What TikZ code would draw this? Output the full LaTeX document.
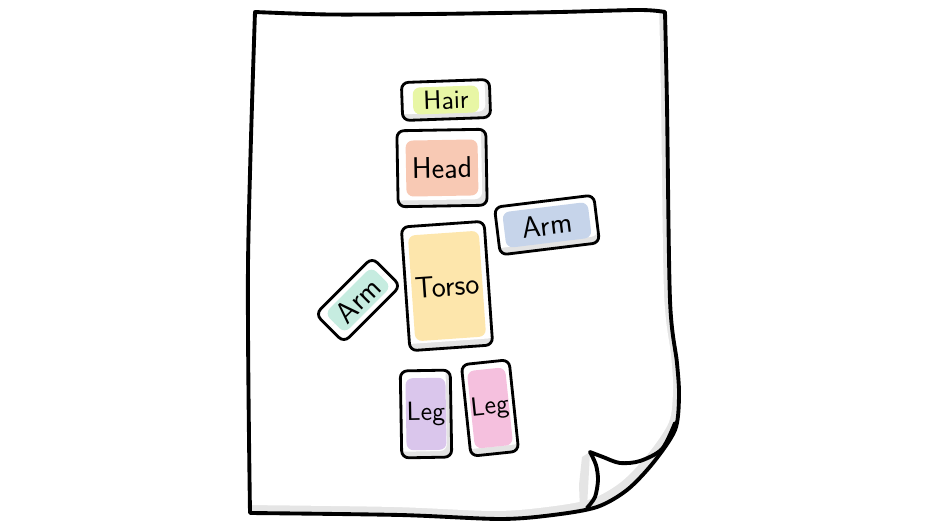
\documentclass[tikz,border=0pt]{standalone}
\usetikzlibrary{arrows}
\definecolor{hairfill}{RGB}{232,246,165}
\definecolor{headfill}{RGB}{248,201,180}
\definecolor{armrfill}{RGB}{198,212,234}
\definecolor{armlfill}{RGB}{198,236,224}
\definecolor{torsofill}{RGB}{253,230,172}
\definecolor{leglfill}{RGB}{218,198,236}
\definecolor{legrfill}{RGB}{245,192,222}
\begin{document}
\begin{tikzpicture}[x=0.02cm,y=0.02cm]
                    \tikzstyle{every node}+=[inner sep=0pt]
                    \tikzstyle{card}=[draw=black, line width=1.6pt, fill=white, rounded corners=4pt,
                      path picture={\fill[black!11] (path picture bounding box.south west) rectangle (path picture bounding box.north east);
                        \fill[white, rounded corners=4pt] ([shift={(-10pt,3.5pt)}]path picture bounding box.south west) rectangle ([shift={(-3.5pt,10pt)}]path picture bounding box.north east);}]
                    \tikzstyle{patch}=[rounded corners=4pt, font=\sffamily\fontsize{17}{17}\selectfont]
                    \tikzstyle{paperline}=[line width=2.2pt, line join=round, line cap=round]
                    \useasboundingbox (0,0) rectangle (938,525);
                    % the sheet
                    \def\paperpath{(255,513) -- plot[smooth] coordinates {(255,513) (330,510.5) (430,511) (500,512) (560,513) (640,515) (665,513)}
                      -- plot[smooth] coordinates {(665,513) (667,420) (670,225) (677,162) (679,128) (675,95) (653,62) (627,35) (597,18) (553,10) (500,6) (400,10) (250,12)}
                      -- plot[smooth] coordinates {(250,12) (248,260) (255,513)} -- cycle}
                    \fill[black!10] \paperpath;
                    \begin{scope}
                      \clip \paperpath;
                      \fill[white, shift={(-6,8)}] \paperpath;
                      \fill[black!10] (590,73) -- (582,68) -- (579,40) -- (580,14) -- (587,17) -- cycle;
                    \end{scope}
                    \draw[paperline] \paperpath;
                    \draw[paperline] plot[smooth] coordinates {(675,102) (662,76) (640,64) (620,62) (603,68) (590,73)}
                      -- plot[smooth] coordinates {(590,73) (596,60) (598,45) (595,28) (587,17)};
                    % body parts
                    \node[card, minimum width=1.76cm, minimum height=0.76cm, rotate=2] (hair) at (446,425) {};
                    \node[patch, fill=hairfill, minimum width=1.32cm, minimum height=0.54cm, rotate=2, font=\sffamily\fontsize{15}{15}\selectfont] (hairtag) at (hair) {Hair};
                    \node[card, minimum width=1.78cm, minimum height=1.52cm, rotate=1] (head) at (442,357) {};
                    \node[patch, fill=headfill, minimum width=1.44cm, minimum height=1.12cm, rotate=1] (headtag) at (head) {Head};
                    \node[card, minimum width=2.0cm, minimum height=0.96cm, rotate=7] (armr) at (547,300) {};
                    \node[patch, fill=armrfill, minimum width=1.72cm, minimum height=0.72cm, rotate=7] (armrtag) at (armr) {Arm};
                    \node[card, minimum width=1.66cm, minimum height=2.48cm, rotate=4] (torso) at (447,239) {};
                    \node[patch, fill=torsofill, minimum width=1.42cm, minimum height=2.12cm, rotate=4] (torsotag) at (torso) {Torso};
                    \node[card, minimum width=1.6cm, minimum height=0.8cm, rotate=45] (arml) at (358,225) {};
                    \node[patch, fill=armlfill, minimum width=1.32cm, minimum height=0.56cm, rotate=45] (armltag) at (arml) {Arm};
                    \node[card, minimum width=1.0cm, minimum height=1.74cm, rotate=1] (legl) at (426,111) {};
                    \node[patch, fill=leglfill, minimum width=0.8cm, minimum height=1.44cm, rotate=1, font=\sffamily\fontsize{15}{15}\selectfont] (legltag) at (legl) {Leg};
                    \node[card, minimum width=0.96cm, minimum height=1.84cm, rotate=6] (legr) at (490,117) {};
                    \node[patch, fill=legrfill, minimum width=0.76cm, minimum height=1.56cm, rotate=6, font=\sffamily\fontsize{15}{15}\selectfont] (legrtag) at (legr) {Leg};
                \end{tikzpicture}
\end{document}
